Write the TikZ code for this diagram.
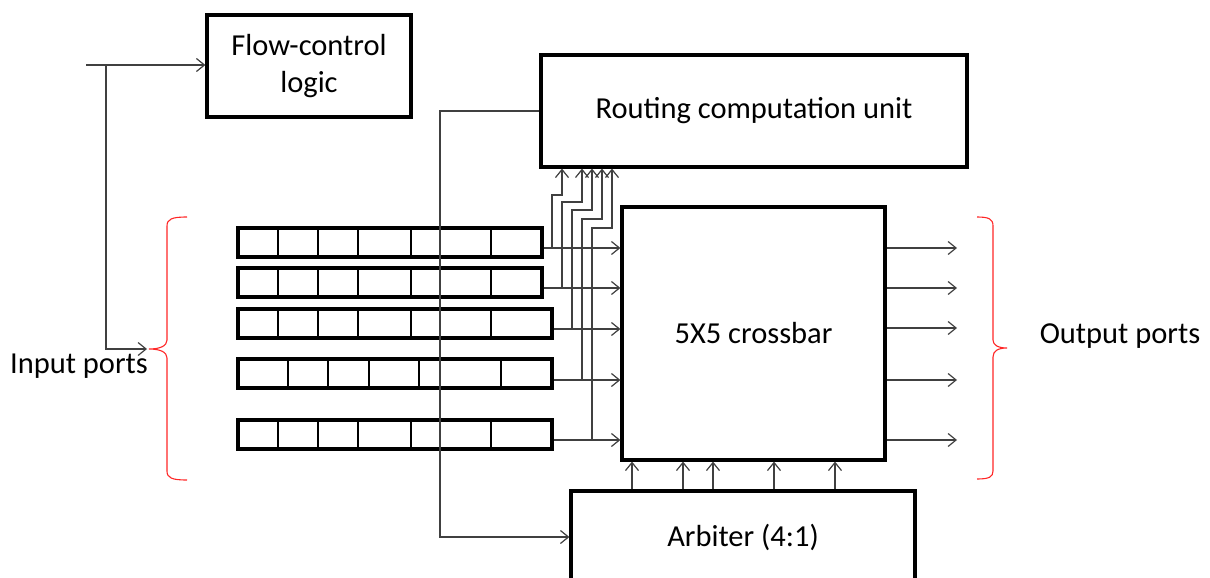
\documentclass[tikz,border=0pt]{standalone}
\usepackage{fontspec}
\setmainfont{Carlito}
\usetikzlibrary{arrows.meta,positioning,calc}

\begin{document}
\begin{tikzpicture}[x=1pt, y=-1pt,
    >={Straight Barb[length=8pt,width=13pt]},
    box/.style={draw, line width=3.2pt, inner sep=0pt, align=center, font=\fontsize{30.5}{37}\selectfont},
    buf/.style={draw, line width=3.2pt, inner sep=0pt, minimum height=29pt},
    cell/.style={line width=1.1pt},
    wire/.style={draw=black!75, line width=1.2pt},
    lbl/.style={inner sep=0pt, anchor=base, font=\fontsize{30.5}{37}\selectfont},
    brace/.style={draw=red!85, line width=1.1pt}]
        \useasboundingbox (0,0) rectangle (1210,578);

        % Flow control
        \node[box, minimum width=204pt, minimum height=102pt] (flow) at (309,66) {Flow-control\\logic};

        % Routing unit
        \node[box, minimum width=426pt, minimum height=112pt] (rcu) at (754,111) {Routing computation unit};

        % Crossbar
        \node[box, minimum width=263pt, minimum height=253pt] (xbar) at (753.5,333.5) {5X5 crossbar};

        % Arbiter
        \node[box, minimum width=344pt, minimum height=92pt] (arb) at (743,537) {Arbiter (4:1)};

        % Input buffers
        \node[buf, minimum width=304pt] (buf1) at (390,242.5) {};
        \node[buf, minimum width=304pt] (buf2) at (390,282.5) {};
        \node[buf, minimum width=314pt] (buf3) at (395,323.5) {};
        \node[buf, minimum width=314pt] (buf4) at (395,373.5) {};
        \node[buf, minimum width=314pt] (buf5) at (395,434.5) {};
        \foreach \n in {1,2,3,5}
            \foreach \x in {278,318,358,411,491}
                \draw[cell] (\x,0 |- buf\n.north) -- (\x,0 |- buf\n.south);
        \foreach \x in {288,328,369,419,501}
            \draw[cell] (\x,0 |- buf4.north) -- (\x,0 |- buf4.south);

        % Input line
        \coordinate (in) at (86,65);
        \coordinate (split) at (106,65);
        \coordinate (inbrace) at (147,349);
        \draw[wire,->] (in) -- (flow.west |- in);
        \draw[wire,->] (split) |- (inbrace);

        % Route to arbiter
        \draw[wire,->] (rcu.west) -- (440,0 |- rcu.west) -- (440,0 |- arb.west) -- (arb.west);

        % Buffers to crossbar and routing unit
        \foreach \n/\y/\a/\j/\b in {1/248/552/195/562, 2/288/562/202/582, 3/329/572/210/592, 4/380/582/219/602, 5/440/592/228/612} {
            \draw[wire,->] (buf\n.east |- 0,\y) -- (xbar.west |- 0,\y);
            \draw[wire,->] (\a,\y) -- (\a,\j) -- (\b,\j) -- (\b,0 |- rcu.south);
        }

        % Arbiter to crossbar
        \foreach \x in {632,683,713,774,835}
            \draw[wire,->] (\x,0 |- arb.north) -- (\x,0 |- xbar.south);

        % Outputs
        \foreach \n/\y in {1/248, 2/288, 3/328, 4/380, 5/440} {
            \coordinate (out\n) at (957,\y);
            \draw[wire,->] (xbar.east |- out\n) -- (out\n);
        }

        % Braces
        \draw[brace] (187,217) .. controls (172,217) and (167,219) .. (167,226) -- (167,340)
            .. controls (167,346) and (160,349) .. (149,349) .. controls (160,349) and (167,352) .. (167,358)
            -- (167,471) .. controls (167,478) and (172,480) .. (187,480);
        \draw[brace] (977,217) .. controls (989,217) and (993,219) .. (993,226) -- (993,340)
            .. controls (993,345) and (998,348) .. (1007,348) .. controls (998,348) and (993,351) .. (993,357)
            -- (993,471) .. controls (993,477) and (989,479) .. (977,479);

        % Labels
        \node[lbl] (inlbl) at (79,373) {Input ports};
        \node[lbl] (outlbl) at (1120,343) {Output ports};
    \end{tikzpicture}
\end{document}
